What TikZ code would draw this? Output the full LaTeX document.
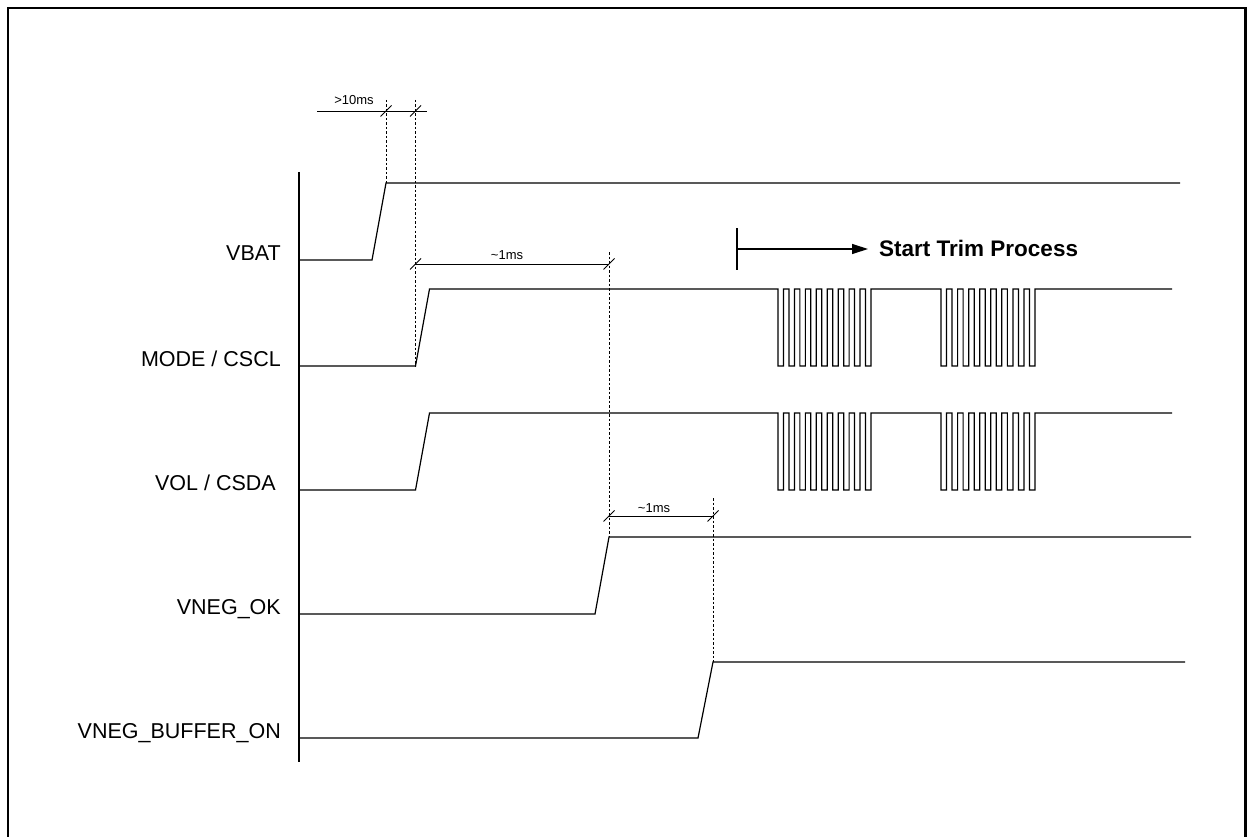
\documentclass[tikz,border=0pt]{standalone}
\usepackage{fontspec}
\setmainfont{Liberation Sans}
\usetikzlibrary{arrows.meta}
\begin{document}
\begin{tikzpicture}[x=1pt,y=-1pt,
  sig/.style={line width=1.2pt, line join=miter},
  dots/.style={line width=1pt, dash pattern=on 2.5pt off 2pt},
  dim/.style={line width=0.9pt},
  lbl/.style={font=\fontsize{21.5}{24}\selectfont, anchor=base east, inner sep=0pt},
  small/.style={font=\fontsize{13}{15}\selectfont, anchor=base, inner sep=0pt},
  tk/.style={line width=0.9pt}]
\useasboundingbox (0,0) rectangle (1247,837);
% frame
\draw[line width=2.8pt] (8,837) -- (8,8) -- (1245.5,8) -- (1245.5,837);
% axis
\coordinate (axtop) at (299,172);
\coordinate (axbot) at (299,762);
\draw[sig] (axtop) -- (axbot);
% labels
\node[lbl] (lvbat) at (281,260) {VBAT};
\node[lbl] (lmode) at (281,366) {MODE / CSCL};
\node[lbl] (lvol)  at (276,490) {VOL / CSDA};
\node[lbl] (lvok)  at (281,614) {VNEG\_OK};
\node[lbl] (lvbuf) at (281,738) {VNEG\_BUFFER\_ON};
% VBAT
\coordinate (vbtop) at (386,183);
\draw[sig] (299,260) -- (372,260) -- (vbtop) -- (1180,183);
% MODE / CSCL
\coordinate (mlow) at (415.5,366);
\draw[sig] (299,366) -- (mlow) -- (429.5,289) -- (778,289) -- (778,366)
  \foreach \k in {1,...,8}{ -- ++(5.47,0) -- ++(0,-77) -- ++(5.47,0) -- ++(0,77)}
  -- ++(5.47,0) -- ++(0,-77) -- (941,289) -- (941,366)
  \foreach \k in {1,...,8}{ -- ++(5.53,0) -- ++(0,-77) -- ++(5.53,0) -- ++(0,77)}
  -- ++(5.53,0) -- ++(0,-77) -- (1172,289);
% VOL / CSDA
\draw[sig] (299,490) -- (415.5,490) -- (429.5,413) -- (778,413) -- (778,490)
  \foreach \k in {1,...,8}{ -- ++(5.47,0) -- ++(0,-77) -- ++(5.47,0) -- ++(0,77)}
  -- ++(5.47,0) -- ++(0,-77) -- (941,413) -- (941,490)
  \foreach \k in {1,...,8}{ -- ++(5.53,0) -- ++(0,-77) -- ++(5.53,0) -- ++(0,77)}
  -- ++(5.53,0) -- ++(0,-77) -- (1172,413);
% VNEG_OK
\coordinate (oktop) at (609,537);
\draw[sig] (299,614) -- (595,614) -- (oktop) -- (1191,537);
% VNEG_BUFFER_ON
\coordinate (buftop) at (713,662);
\draw[sig] (299,738) -- (698,738) -- (buftop) -- (1185,662);
% dotted guides
\coordinate (g1) at (386,100);
\coordinate (g2) at (415.5,100);
\coordinate (g3) at (609,252);
\coordinate (g4) at (713,498);
\draw[dots] (g1) -- (vbtop);
\draw[dots] (g2) -- (mlow);
\draw[dots] (g3) -- (oktop);
\draw[dots] (g4) -- (buftop);
% >10ms
\coordinate (d1a) at (317,111);
\coordinate (d1b) at (427,111);
\draw[dim] (d1a) -- (d1b);
\draw[tk] (386,111) ++(-5.5,5.5) -- ++(11,-11);
\draw[tk] (415.5,111) ++(-5.5,5.5) -- ++(11,-11);
\node[small] (t1) at (354,105) {>10ms};
% ~1ms (1)
\coordinate (d2a) at (415.5,264);
\coordinate (d2b) at (609,264);
\draw[dim] (d2a) -- (d2b);
\draw[tk] (d2a) ++(-5.5,5.5) -- ++(11,-11);
\draw[tk] (d2b) ++(-5.5,5.5) -- ++(11,-11);
\node[small] (t2) at (507,259) {\textasciitilde1ms};
% ~1ms (2)
\coordinate (d3a) at (609,516);
\coordinate (d3b) at (713,516);
\draw[dim] (d3a) -- (d3b);
\draw[tk] (d3a) ++(-5.5,5.5) -- ++(11,-11);
\draw[tk] (d3b) ++(-5.5,5.5) -- ++(11,-11);
\node[small] (t3) at (654,512) {\textasciitilde1ms};
% Start Trim Process
\coordinate (ts) at (737,249);
\coordinate (te) at (868,249);
\draw[sig] (737,228) -- (737,270);
\draw[sig,-{Triangle[length=16pt,width=10pt]}] (ts) -- (te);
\node[anchor=base west, inner sep=0pt, font=\fontsize{22.5}{26}\selectfont\bfseries] (trim) at (879,256) {Start Trim Process};
\end{tikzpicture}
\end{document}
